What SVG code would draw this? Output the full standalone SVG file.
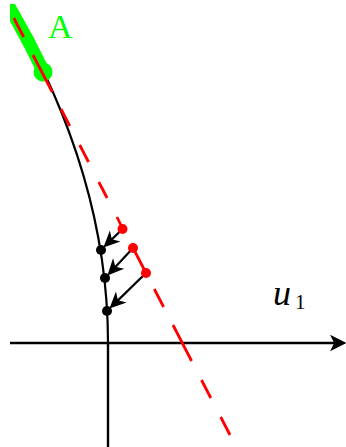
<svg xmlns="http://www.w3.org/2000/svg" width="346" height="447" viewBox="0 0 346 447">
  <defs>
    <clipPath id="clip"><rect x="10" y="4" width="336" height="443"/></clipPath>
    <marker id="stealth" markerUnits="userSpaceOnUse" markerWidth="20" markerHeight="20" viewBox="-13 -8 17 16" refX="0" refY="0" orient="auto">
      <path d="M3,0 L-11,-6.5 L-7,0 L-11,6.5 Z" fill="#000"/>
    </marker>
    <marker id="axisTip" markerUnits="userSpaceOnUse" markerWidth="20" markerHeight="20" viewBox="-13 -8 17 16" refX="0" refY="0" orient="auto">
      <path d="M3,0 L-11,-7 L-7.5,0 L-11,7 Z" fill="#000"/>
    </marker>
  </defs>
  <style>
    .axis { stroke: #000; stroke-width: 2.4; fill: none; }
    .curve { stroke: #000; stroke-width: 2.2; fill: none; }
    .green { stroke: #00ff00; stroke-width: 13; fill: none; }
    .reddash { stroke: #ff0000; stroke-width: 2.8; fill: none; }
    .arrow { stroke: #000; stroke-width: 2.2; fill: none; }
    .bdot { fill: #000; }
    .rdot { fill: #ff0000; }
    .lbl { font-family: "Liberation Serif", "Times New Roman", serif; }
  </style>

  <g id="axes">
    <line class="axis" x1="10" y1="343" x2="343" y2="343" marker-end="url(#axisTip)"/>
    <line class="axis" x1="108" y1="343" x2="108" y2="447"/>
  </g>

  <g id="curve" clip-path="url(#clip)">
    <path class="curve" d="M108,343 Q108,171.5 5.1,0"/>
    <path class="green" d="M-1,-10 Q24.3,31 43.7,72"/>
    <circle cx="43" cy="72" r="9.5" fill="#00ff00"/>
  </g>

  <g id="dashed-line" clip-path="url(#clip)">
    <path class="reddash" d="M13.8,18 L23.7,37 M33,55 L52.2,92 M61,109 L69.8,126 M79.7,145 L88.5,162 M98.8,182 L107.1,198 M117,217 L122.8,229 M133.1,248 L146,273 M154.3,289 L163.6,307 M173,325 L191.6,361 M201.5,380 L210.8,398 M220.7,417 L230,435"/>
  </g>

  <g id="connectors">
    <line class="arrow" x1="122.5" y1="229" x2="105.9" y2="245.1" marker-end="url(#stealth)"/>
    <line class="arrow" x1="133" y1="248" x2="109.8" y2="272.9" marker-end="url(#stealth)"/>
    <line class="arrow" x1="146" y1="273" x2="112" y2="306.1" marker-end="url(#stealth)"/>
  </g>

  <g id="r1"><circle class="rdot" cx="122.5" cy="229" r="5"/></g>
  <g id="r2"><circle class="rdot" cx="133" cy="248" r="5"/></g>
  <g id="r3"><circle class="rdot" cx="146" cy="273" r="5"/></g>
  <g id="b1"><circle class="bdot" cx="101" cy="250" r="5"/></g>
  <g id="b2"><circle class="bdot" cx="105" cy="278" r="5"/></g>
  <g id="b3"><circle class="bdot" cx="107" cy="311" r="5"/></g>

  <g id="label-A">
    <text class="lbl" x="48" y="38" font-size="34" fill="#00ff00">A</text>
  </g>
  <g id="label-u1">
    <text class="lbl" x="273" y="305" font-size="36" font-style="italic" fill="#000">u</text>
    <text class="lbl" x="295" y="309" font-size="21" fill="#000">1</text>
  </g>
</svg>
